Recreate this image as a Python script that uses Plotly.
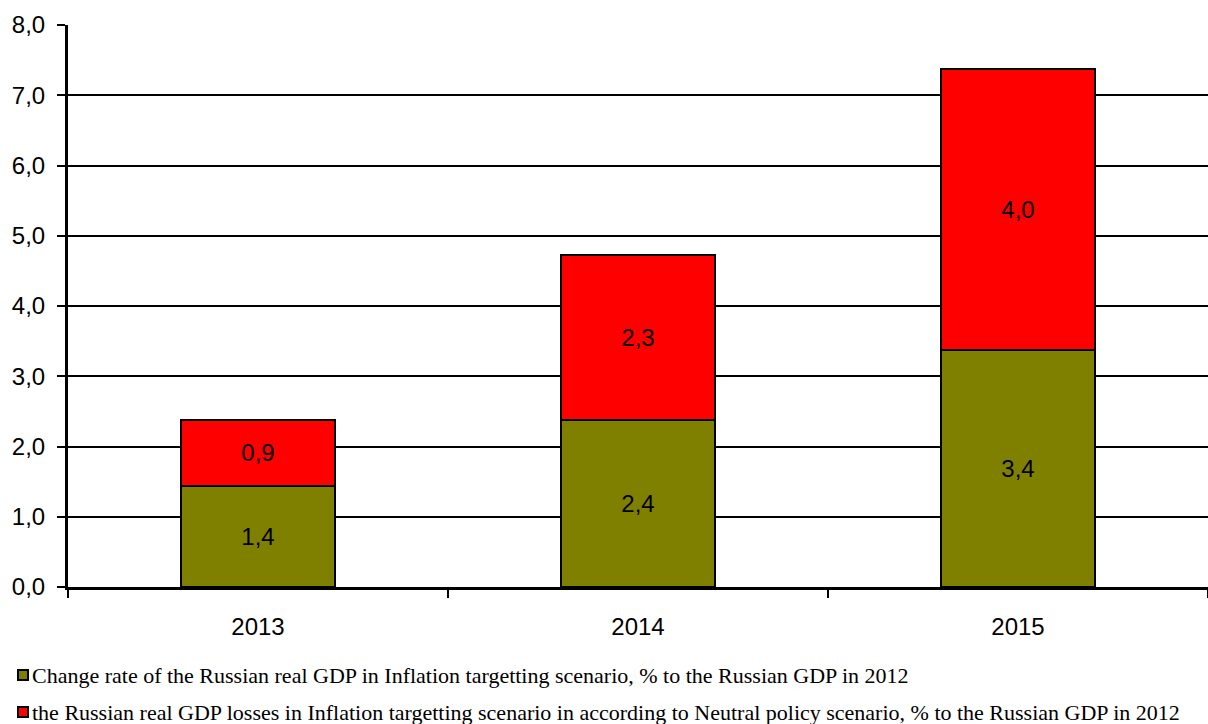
import plotly.graph_objects as go

years = ["2013", "2014", "2015"]
gdp_change = [1.44, 2.38, 3.37]
gdp_losses = [0.94, 2.34, 4.00]
y_ticks = [0, 1, 2, 3, 4, 5, 6, 7, 8]

name_green = "Change rate of the Russian real GDP in Inflation targetting scenario, % to the Russian GDP in 2012"
name_red = "the Russian real GDP losses in Inflation targetting scenario in according to Neutral policy scenario, % to the Russian GDP in 2012"
colors = ["#808000", "#FF0000"]

W, H = 1208, 724
ML, MR, MT, MB = 68, 0, 25, 137
PW, PH = W - ML - MR, H - MT - MB

label_font = dict(family="Liberation Sans, Arial", size=24, color="black")

fig = go.Figure()
for vals, name, col in [(gdp_change, name_green, colors[0]), (gdp_losses, name_red, colors[1])]:
    fig.add_trace(go.Bar(
        x=years, y=vals, name=name, showlegend=False,
        marker=dict(color=col, line=dict(color="black", width=2)),
        texttemplate="%{y:.1f}", textposition="inside", insidetextanchor="middle",
        textangle=0, textfont=label_font, insidetextfont=label_font,
        constraintext="none",
    ))

# legend drawn as shapes + annotations below the plot
def px_x(px):
    return (px - ML) / PW

def px_y(py):
    return (H - MB - py) / PH

legend_rows = [(name_green, colors[0], 675), (name_red, colors[1], 712)]
for name, col, cy in legend_rows:
    fig.add_shape(type="rect", xref="paper", yref="paper",
                  x0=px_x(18), x1=px_x(28), y0=px_y(cy + 5), y1=px_y(cy - 5),
                  fillcolor=col, line=dict(color="black", width=2), layer="above")
    fig.add_annotation(xref="paper", yref="paper", x=px_x(30), y=px_y(cy),
                       xanchor="left", yanchor="middle", showarrow=False,
                       text=name,
                       font=dict(family="Liberation Serif, Times New Roman", size=22, color="black"))

fig.update_layout(
    barmode="stack",
    bargap=0.595,
    separators=", ",
    width=W, height=H,
    margin=dict(l=ML, r=MR, t=MT, b=MB, autoexpand=False),
    plot_bgcolor="white", paper_bgcolor="white",
    font=dict(family="Liberation Sans, Arial", size=24, color="black"),
    showlegend=False,
    uniformtext=dict(mode=False),
)
fig.update_yaxes(
    range=[0, 8], tickvals=y_ticks, tickformat=".1f",
    showgrid=True, gridcolor="black", gridwidth=2,
    showline=True, linecolor="black", linewidth=3,
    ticks="outside", ticklen=8, tickwidth=2, tickcolor="black",
    zeroline=False, ticklabelstandoff=7,
    tickfont=dict(size=24),
)
fig.update_xaxes(
    type="category", tickson="boundaries",
    showline=True, linecolor="black", linewidth=3,
    ticks="outside", ticklen=8, tickwidth=2, tickcolor="black",
    showgrid=False, ticklabelstandoff=16,
    tickfont=dict(size=24),
)

fig.write_html(
    "out.html",
    config={"displayModeBar": False},
    post_script="document.body.style.margin='0';document.body.style.overflow='hidden';",
)
